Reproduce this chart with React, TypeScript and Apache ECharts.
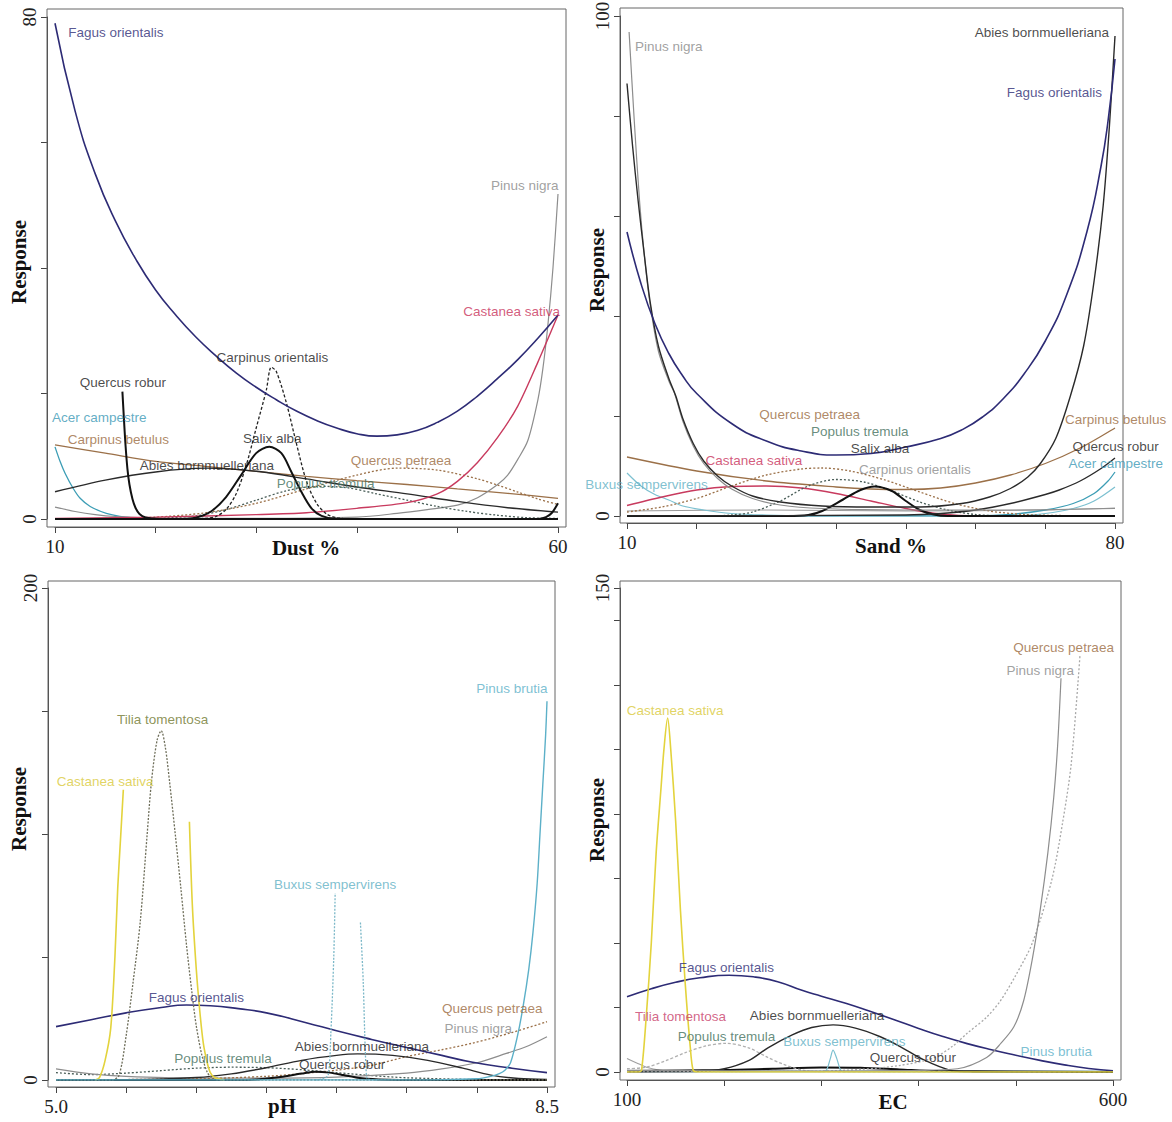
import React, { useEffect, useRef } from 'react';
import * as echarts from 'echarts';

type Pt = [number, number | null];

// ---------- Panel 1: Dust % ----------
const dustFagus: Pt[] = [[10,79],[12,65],[14,55],[16,47.5],[18,41.5],[20,36.5],[22,32.5],[24,29],[26,26],[28,23.3],[30,21],[32,19],[34,17.2],[36,15.7],[38,14.5],[40,13.6],[42,13.2],[44,13.4],[46,14.1],[48,15.4],[50,17.2],[52,19.6],[54,22.4],[56,25.4],[58,28.8],[60,32.5]];
const dustPinusNigra: Pt[] = [[10,1.9],[12,1.2],[14,0.7],[16,0.4],[20,0.15],[30,0.1],[40,0.3],[44,0.9],[47,1.5],[50,2.2],[52,3.4],[54,5.5],[55,7],[56,9.5],[57,12.5],[58,19],[58.5,24],[59,31],[59.5,40],[60,51.8]];
const dustCastanea: Pt[] = [[10,0.1],[20,0.3],[30,0.7],[35,1.0],[40,1.7],[45,2.6],[48,4],[50,6],[52,9],[54,13],[56,18],[58,25],[60,32.5]];
const dustCarpinusOrientalis: Pt[] = [[10,0],[20,0],[25,0.1],[26,0.4],[27,1.5],[28,4],[29,8.5],[30,14.5],[31,20.5],[31.5,24.2],[32,23.5],[33,18.5],[34,12],[35,6],[36,2.5],[37,0.8],[38,0.2],[40,0],[60,0]];
const dustSalix: Pt[] = [[10,0],[22,0],[24,0.2],[25.5,1.2],[27,3.5],[28.5,7],[30,10.5],[31.3,11.5],[32.5,10.5],[33.5,7.5],[34.5,4.3],[35.5,1.7],[36.5,0.5],[38,0],[60,0]];
const dustQuercusRobur: Pt[] = [[16.7,20.3],[16.85,16],[17.0,12],[17.2,8],[17.4,5.5],[17.7,3.2],[18.0,1.8],[18.4,0.8],[19,0.25],[20,0.05],[21,0],[58,0],[58.8,0.3],[59.4,1],[60,2.5]];
const dustAcer: Pt[] = [[10,11.5],[10.5,9.2],[11,7.3],[11.8,4.9],[12.5,3.3],[13.5,2],[15.1,0.9],[17,0.3],[19,0.1],[22,0],[60,0]];
const dustCarpinusBetulus: Pt[] = [[10,11.8],[15,10.5],[20,9.2],[25,8.4],[30,7.6],[35,6.8],[40,6.1],[45,5.5],[50,4.8],[55,4.1],[60,3.3]];
const dustAbies: Pt[] = [[10,4.35],[15,6.2],[20,7.5],[25,8.1],[30,7.6],[35,6.4],[40,5.1],[45,4.0],[50,2.8],[55,1.8],[60,1.1]];
const dustQuercusPetraea: Pt[] = [[15,0.1],[20,0.3],[25,1.0],[30,2.5],[35,4.8],[40,7.0],[44,8.1],[48,7.8],[52,6.4],[54,5.4],[56,4.3],[58,3.2],[60,2.3]];
const dustPopulus: Pt[] = [[20,0.1],[24,0.5],[27,1.5],[30,3],[33,4.5],[36,5.2],[39,5],[42,4],[45,3],[48,2],[51,1.2],[54,0.6],[57,0.2],[60,0.1]];

const dustLabels: [string, number, number][] = [
  ['Fagus orientalis', 16.06, 77.6], ['Pinus nigra', 56.7, 53.1], ['Castanea sativa', 55.4, 33.0],
  ['Carpinus orientalis', 31.6, 25.8], ['Quercus robur', 16.75, 21.8], ['Acer campestre', 14.4, 16.1],
  ['Carpinus betulus', 16.3, 12.7], ['Salix alba', 31.6, 12.9], ['Abies bornmuelleriana', 25.1, 8.6],
  ['Quercus petraea', 44.4, 9.4], ['Populus tremula', 36.9, 5.6],
];

// ---------- Panel 2: Sand % ----------
const sandPinusNigra: Pt[] = [[10.3,96.8],[11,80],[11.8,63],[12.5,52],[13.3,42.5],[14.5,33],[16,27],[16.8,24.6],[18,19],[19.5,14],[21,10.5],[23,7.5],[25,5.4],[28,3.5],[32,2.2],[38,1.5],[50,1.2],[65,1.2],[80,1.5]];
const sandAbies: Pt[] = [[10,86.5],[10.8,74],[11.6,63],[12.5,52],[13.3,43],[14.5,34],[16,27.5],[17,24],[18,19.5],[19.5,14.5],[21,11],[23,8],[25,6],[28,4],[32,2.8],[38,2],[45,1.8],[52,1.8],[58,2.5],[62,3.8],[65,5.5],[67.5,7.8],[69.3,10.5],[71.5,15.5],[73.6,24],[75.5,34],[77,47],[78.3,62],[79.2,78],[80,96]];
const sandFagus: Pt[] = [[10,56.8],[12,46.5],[14,38.5],[16,32.5],[18,28],[20,24.5],[25,18.5],[30,15],[35,13],[40,12.2],[45,12.5],[50,13.8],[55,15.5],[58,17.2],[61,19.8],[64,23.5],[67,28.5],[70,35],[73,44],[76,57],[78,70],[79,79],[80,91.4]];
const sandQuercusPetraea: Pt[] = [[10,0.8],[15,1.8],[20,3.5],[25,6],[30,8.2],[35,9.4],[38,9.6],[42,9],[47,7.2],[52,4.8],[57,2.5],[62,1],[67,0.3],[72,0.1],[80,0]];
const sandPopulus: Pt[] = [[10,0],[22,0],[25,0.2],[28,0.8],[32,3],[36,6],[40,7.3],[44,6.8],[48,5],[52,2.8],[56,1.2],[60,0.3],[65,0],[80,0]];
const sandSalix: Pt[] = [[10,0],[33,0],[36,0.2],[38,1],[41,3.3],[43.5,5.2],[45.5,5.9],[48,5],[50,3],[52,1.2],[54,0.3],[56,0],[80,0]];
const sandCastanea: Pt[] = [[10,2.1],[15,3.8],[20,5.2],[25,5.9],[30,6],[35,5.6],[40,4.5],[45,3],[50,1.5],[55,0.4],[60,0],[80,0]];
const sandCarpinusBetulus: Pt[] = [[10,11.8],[20,9],[30,7],[40,5.8],[45,5.4],[50,5.3],[55,5.6],[60,6.6],[65,8.2],[70,10.5],[75,13.6],[80,17.6]];
const sandCarpinusOrientalis: Pt[] = [[10,1.0],[30,1.2],[50,1.0],[70,1.2],[80,1.6]];
const sandBuxus: Pt[] = [[10,8.6],[12,6],[14,4.3],[16,3.2],[18,2],[21,1.2],[25,0.5],[30,0.2],[40,0],[65,0],[70,0.5],[74,1.5],[77,3],[80,5.8]];
const sandAcer: Pt[] = [[10,0],[60,0],[65,0.3],[70,1.2],[74,2.5],[77,4.5],[79,7],[80,8.8]];
const sandQuercusRobur: Pt[] = [[10,0],[50,0.2],[55,0.5],[60,1.2],[65,2.5],[70,4.3],[72,5.2],[75,7],[78,9.5],[80,11.6]];

const sandLabels: [string, number, number][] = [
  ['Pinus nigra', 16.0, 93.9], ['Abies bornmuelleriana', 69.5, 96.8], ['Fagus orientalis', 71.3, 84.8],
  ['Quercus petraea', 36.2, 20.4], ['Populus tremula', 43.4, 17.0], ['Salix alba', 46.3, 13.5],
  ['Castanea sativa', 28.2, 11.2], ['Carpinus orientalis', 51.3, 9.4], ['Buxus sempervirens', 12.8, 6.4],
  ['Carpinus betulus', 80.1, 19.3], ['Quercus robur', 80.1, 13.9], ['Acer campestre', 80.1, 10.6],
];

// ---------- Panel 3: pH ----------
const phPinusBrutia: Pt[] = [[5,0],[7.5,0],[8.0,0.5],[8.1,1.5],[8.16,2.6],[8.2,4],[8.24,7],[8.29,18],[8.33,30],[8.37,45],[8.4,60],[8.43,80],[8.45,100],[8.47,120],[8.49,140],[8.5,154]];
const phTilia: Pt[] = [[5,0],[5.4,0],[5.45,2],[5.5,18],[5.55,40],[5.6,64],[5.65,100],[5.68,121],[5.72,138],[5.75,142],[5.78,135],[5.81,121],[5.85,100],[5.89,78],[5.93,55],[5.97,35],[6.0,22],[6.04,10],[6.08,3],[6.12,0.5],[6.2,0],[8.5,0]];
const phCastanea: Pt[] = [[5.28,0],[5.31,1],[5.35,8],[5.39,21],[5.42,50],[5.44,78],[5.46,98],[5.48,118],[5.7,null],[5.951,105],[5.972,71],[6.0,45],[6.025,28],[6.05,15],[6.078,7],[6.1,3],[6.13,1],[6.2,0]];
const phBuxus: Pt[] = [[6.85,0],[6.9,0.5],[6.94,2],[6.96,20],[6.98,50],[6.99,76],[7.08,null],[7.17,64],[7.19,40],[7.2,20],[7.21,5],[7.22,0.5],[7.3,0]];
const phFagus: Pt[] = [[5.0,21.7],[5.25,24.5],[5.5,27.3],[5.75,29.5],[5.93,30.5],[6.1,30.2],[6.3,29],[6.5,27.3],[6.79,23.2],[7.0,20],[7.25,16.5],[7.5,13.2],[7.75,10],[7.97,7.2],[8.25,4.8],[8.5,3]];
const phQuercusPetraea: Pt[] = [[5.0,0],[6.0,0.5],[6.5,1.5],[6.79,2.8],[7.0,4],[7.26,6.1],[7.5,9.5],[7.75,12.3],[7.97,15],[8.25,19.3],[8.5,23.7]];
const phPinusNigra: Pt[] = [[5.0,4.5],[5.25,2.5],[5.5,1.5],[6.0,0.8],[6.5,0.8],[7.0,1.2],[7.5,2.8],[7.75,4.5],[8.0,7],[8.21,10.8],[8.35,13.5],[8.5,17.6]];
const phAbies: Pt[] = [[5.0,0],[5.5,0.1],[6.0,1],[6.25,2.5],[6.5,5],[6.75,8],[7.0,10],[7.15,10.6],[7.4,10],[7.65,8],[7.9,4.8],[8.1,2],[8.3,0.6],[8.5,0.2]];
const phQuercusRobur: Pt[] = [[5,0],[6.3,0],[6.45,0.3],[6.6,1.2],[6.75,2.6],[6.85,3.4],[6.95,3],[7.05,2],[7.15,0.9],[7.3,0.2],[7.45,0],[8.5,0]];
const phPopulus: Pt[] = [[5.0,3],[5.25,2.2],[5.5,2.8],[5.75,3.8],[6.0,4.8],[6.25,5.2],[6.5,5],[6.75,4.2],[7.0,3],[7.25,1.8],[7.5,0.9],[8.0,0.2],[8.5,0]];

const phLabels: [string, number, number][] = [
  ['Pinus brutia', 8.25, 159.3], ['Tilia tomentosa', 5.76, 146.5], ['Castanea sativa', 5.35, 121.4],
  ['Buxus sempervirens', 6.99, 79.5], ['Fagus orientalis', 6.0, 33.7], ['Quercus petraea', 8.11, 29.1],
  ['Pinus nigra', 8.01, 20.8], ['Abies bornmuelleriana', 7.18, 13.8], ['Populus tremula', 6.19, 8.7],
  ['Quercus robur', 7.04, 6.3],
];

// ---------- Panel 4: EC ----------
const ecCastanea: Pt[] = [[100,0],[112,0],[115,0.6],[120,18],[125,40],[130,68],[135,88],[138,100],[141.8,109.7],[145,100],[150,78],[155,50],[160,27],[165,8],[168,0.6],[172,0],[600,0]];
const ecPinusNigra: Pt[] = [[100,0.5],[300,0.3],[400,0.5],[440,1],[470,4.5],[485,9],[498,14],[508,22],[517,35],[525,50],[533,68],[539,85],[543,101],[546.5,122]];
const ecQuercusPetraea: Pt[] = [[100,0],[250,0.2],[300,0.3],[340,0.8],[380,2],[415,4.3],[435,8],[450,12],[470,17],[484,22],[500,30],[517,40],[537,59.5],[548,77],[557,95.5],[566,129]];
const ecFagus: Pt[] = [[100,23.3],[125,25.8],[150,27.8],[175,29.2],[205,30],[230,29.5],[255,28],[280,25.3],[300,23.5],[325,21.3],[350,18.8],[375,16.2],[400,13.5],[425,11],[450,8.8],[475,6.9],[500,5.2],[525,3.6],[550,2.2],[575,1.1],[600,0.4]];
const ecAbies: Pt[] = [[100,0],[175,0.2],[200,1],[225,3.5],[245,7.5],[270,11.5],[290,13.8],[312,14.6],[335,13.6],[360,11],[381,7.9],[405,3.8],[432,0.6],[455,0.1],[600,0]];
const ecPopulus: Pt[] = [[100,1],[120,1.5],[140,3.5],[160,6],[180,8],[202,8.9],[225,7.5],[245,4.5],[260,2.5],[280,0.6],[300,0.1],[600,0]];
const ecTilia: Pt[] = [[100,4.2],[110,2.8],[120,1.5],[135,0.5],[150,0.1],[200,0],[600,0]];
const ecBuxus: Pt[] = [[100,0],[300,0],[305,0.5],[309,4],[312,6.8],[316,4],[320,0.5],[325,0],[600,0]];
const ecQuercusRobur: Pt[] = [[100,0.3],[200,0.6],[250,1],[300,1.4],[340,1.3],[380,0.8],[420,0.3],[600,0]];
const ecPinusBrutia: Pt[] = [[100,0.2],[300,0.2],[600,0.2]];

const ecLabels: [string, number, number][] = [
  ['Quercus petraea', 549.2, 131.5], ['Pinus nigra', 525.1, 124.4], ['Castanea sativa', 149.5, 111.9],
  ['Fagus orientalis', 202.2, 32.5], ['Tilia tomentosa', 155.1, 17.2], ['Abies bornmuelleriana', 295.5, 17.5],
  ['Populus tremula', 202.4, 11.0], ['Buxus sempervirens', 323.6, 9.4], ['Quercus robur', 394, 4.4],
  ['Pinus brutia', 541.6, 6.3],
];

// ---------- styles ----------
const LINE: Record<string, { color: string; width: number; dash?: number[]; smooth?: number }> = {
  fagus: { color: '#2d2b75', width: 1.6, smooth: 0.5 },
  pinusNigra: { color: '#8d8d8d', width: 1.2 },
  castaneaRed: { color: '#c83a5e', width: 1.4 },
  carpOri: { color: '#222222', width: 1.3, dash: [3, 2] },
  carpOriGrey: { color: '#9a9a9a', width: 1.1 },
  salix: { color: '#111111', width: 2 },
  qRobur: { color: '#111111', width: 2 },
  acer: { color: '#3c9db5', width: 1.3 },
  carpBet: { color: '#9b7048', width: 1.3 },
  abies: { color: '#2a2a2a', width: 1.4 },
  qPetraea: { color: '#9b7048', width: 1.3, dash: [2, 2] },
  populus: { color: '#4a5e58', width: 1.3, dash: [2, 2] },
  buxus: { color: '#7cc0d0', width: 1.2 },
  buxusDot: { color: '#7cb8c8', width: 1.3, dash: [2, 1.5] },
  tilia: { color: '#6e6e5a', width: 1.3, dash: [2, 1.5] },
  tiliaEc: { color: '#a0a0a0', width: 1.1 },
  brutia: { color: '#5cb0c8', width: 1.4 },
  castaneaYellow: { color: '#e3d33c', width: 1.6 },
  populusEc: { color: '#b0b0b0', width: 1.3, dash: [3, 2] },
  qPetraeaEc: { color: '#a8a8a8', width: 1.3, dash: [2, 2] },
};

const LABEL_COLOR: Record<string, string> = {
  'Fagus orientalis': '#2d2b75', 'Pinus nigra': '#888888', 'Castanea sativa': '#c8325a',
  'Carpinus orientalis': '#1a1a1a', 'Quercus robur': '#1a1a1a', 'Acer campestre': '#3a98b5',
  'Carpinus betulus': '#9a6a3e', 'Salix alba': '#1a1a1a', 'Abies bornmuelleriana': '#1a1a1a',
  'Quercus petraea': '#9a6a3e', 'Populus tremula': '#3f6f5c', 'Buxus sempervirens': '#5fb0c4',
  'Pinus brutia': '#5cb0c8', 'Tilia tomentosa': '#70782e',
};

type Curve = [Pt[], string];

const PANELS = [
  {
    xMin: 10, xMax: 60, xInt: 10, yMin: 0, yMax: 80, yInt: 20, xLab: [10, 60], yLab: [0, 80], yTicks: null as number[] | null,
    digits: 0, xTitle: 'Dust %', labels: dustLabels, overrides: {} as Record<string, string>,
    curves: [
      [dustCarpinusBetulus, 'carpBet'], [dustAcer, 'acer'], [dustPinusNigra, 'pinusNigra'], [dustPopulus, 'populus'],
      [dustQuercusPetraea, 'qPetraea'], [dustAbies, 'abies'], [dustCastanea, 'castaneaRed'], [dustCarpinusOrientalis, 'carpOri'],
      [dustSalix, 'salix'], [dustQuercusRobur, 'qRobur'], [dustFagus, 'fagus'],
    ] as Curve[],
  },
  {
    xMin: 10, xMax: 80, xInt: 10, yMin: 0, yMax: 100, yInt: 20, xLab: [10, 80], yLab: [0, 100], yTicks: null,
    digits: 0, xTitle: 'Sand %', labels: sandLabels, overrides: { 'Carpinus orientalis': '#8a8a8a' },
    curves: [
      [sandCarpinusOrientalis, 'carpOriGrey'], [sandBuxus, 'buxus'], [sandAcer, 'acer'], [sandCarpinusBetulus, 'carpBet'],
      [sandCastanea, 'castaneaRed'], [sandQuercusPetraea, 'qPetraea'], [sandPopulus, 'populus'], [sandSalix, 'salix'],
      [sandQuercusRobur, 'abies'], [sandPinusNigra, 'pinusNigra'], [sandAbies, 'abies'], [sandFagus, 'fagus'],
    ] as Curve[],
  },
  {
    xMin: 5, xMax: 8.5, xInt: 0.5, yMin: 0, yMax: 200, yInt: 50, xLab: [5, 8.5], yLab: [0, 200], yTicks: null,
    digits: 1, xTitle: 'pH', labels: phLabels, overrides: { 'Castanea sativa': '#d9c93a' },
    curves: [
      [phPopulus, 'populus'], [phPinusNigra, 'pinusNigra'], [phQuercusPetraea, 'qPetraea'], [phAbies, 'abies'],
      [phQuercusRobur, 'qRobur'], [phFagus, 'fagus'], [phBuxus, 'buxusDot'], [phTilia, 'tilia'],
      [phCastanea, 'castaneaYellow'], [phPinusBrutia, 'brutia'],
    ] as Curve[],
  },
  {
    xMin: 100, xMax: 600, xInt: 100, yMin: 0, yMax: 150, yInt: undefined as number | undefined, xLab: [100, 600], yLab: [0, 150],
    yTicks: [0, 20, 40, 60, 80, 100, 120, 140, 150],
    digits: 0, xTitle: 'EC', labels: ecLabels, overrides: { 'Castanea sativa': '#d9c93a', 'Tilia tomentosa': '#c8406a' },
    curves: [
      [ecPinusBrutia, 'brutia'], [ecTilia, 'tiliaEc'], [ecQuercusRobur, 'qRobur'], [ecBuxus, 'buxus'], [ecPopulus, 'populusEc'],
      [ecAbies, 'abies'], [ecFagus, 'fagus'], [ecQuercusPetraea, 'qPetraeaEc'], [ecPinusNigra, 'pinusNigra'],
      [ecCastanea, 'castaneaYellow'],
    ] as Curve[],
  },
];

// layout (pixels)
const LAYOUT = [
  { left: 55, top: 17, width: 503, height: 502, frame: [47, 9, 519, 518], yT: [18.5, 262], xT: [306, 548] },
  { left: 627, top: 16, width: 488, height: 500, frame: [620, 8, 503, 515], yT: [597, 270], xT: [891, 546] },
  { left: 56, top: 588, width: 491, height: 492, frame: [48, 581, 507, 506], yT: [18.5, 809], xT: [282, 1106] },
  { left: 627, top: 588, width: 486, height: 484, frame: [620, 581, 501, 499], yT: [597, 820], xT: [893, 1102] },
];

const SERIF = '"Liberation Serif", "Times New Roman", serif';
const SANS = '"Liberation Sans", Arial, sans-serif';

export default function App() {
  const ref = useRef<HTMLDivElement>(null);
  useEffect(() => {
    if (!ref.current) return;
    const chart = echarts.init(ref.current, undefined, { renderer: 'svg' });
    const grid: any[] = [];
    const xAxis: any[] = [];
    const yAxis: any[] = [];
    const series: any[] = [];
    const graphic: any[] = [];

    PANELS.forEach((p, i) => {
      const L = LAYOUT[i];
      grid.push({ left: L.left, top: L.top, width: L.width, height: L.height, containLabel: false, outerBoundsMode: 'none' });
      const xOff = L.frame[1] + L.frame[3] - (L.top + L.height);
      const yOff = L.left - L.frame[0];
      xAxis.push({
        gridIndex: i, type: 'value', min: p.xMin, max: p.xMax, interval: p.xInt, offset: xOff,
        axisLine: { show: true, onZero: false, lineStyle: { color: '#444', width: 1 } },
        axisTick: { show: true, length: 6, lineStyle: { color: '#444' } },
        axisLabel: {
          customValues: p.xLab, color: '#222', fontFamily: SERIF, fontSize: 19, margin: 10,
          formatter: (v: number) => v.toFixed(p.digits),
        },
        splitLine: { show: false },
      });
      const yTick: any = { show: true, length: 6, lineStyle: { color: '#444' } };
      if (p.yTicks) yTick.customValues = p.yTicks;
      yAxis.push({
        gridIndex: i, type: 'value', min: p.yMin, max: p.yMax, interval: p.yInt, offset: yOff,
        axisLine: { show: true, onZero: false, lineStyle: { color: '#444', width: 1 } },
        axisTick: yTick,
        axisLabel: {
          customValues: p.yLab, color: '#222', fontFamily: SERIF, fontSize: 19, margin: 8, rotate: 90,
          formatter: (v: number) => String(v),
        },
        splitLine: { show: false },
      });
      p.curves.forEach(([data, key], k) => {
        const s = LINE[key];
        series.push({
          type: 'line', xAxisIndex: i, yAxisIndex: i, data, symbol: 'none', showSymbol: false,
          smooth: s.smooth ?? 0.3, connectNulls: false, silent: true, z: 2 + k * 0.01,
          lineStyle: { color: s.color, width: s.width, type: s.dash ? s.dash : 'solid' },
        });
      });
      series.push({
        type: 'scatter', xAxisIndex: i, yAxisIndex: i, symbolSize: 0, clip: false, silent: true, z: 10,
        data: p.labels.map(([t, x, y]) => ({
          value: [x, y], name: t,
          label: { color: (p.overrides as any)[t] || LABEL_COLOR[t] },
        })),
        label: { show: true, position: 'inside', formatter: '{b}', fontFamily: SANS, fontSize: 13.5 },
      });
      graphic.push({
        type: 'rect', shape: { x: L.frame[0], y: L.frame[1], width: L.frame[2], height: L.frame[3] },
        style: { fill: 'none', stroke: '#666', lineWidth: 1 }, silent: true, z: 1,
      });
      graphic.push({
        type: 'text', x: L.yT[0], y: L.yT[1], rotation: Math.PI / 2, silent: true,
        style: { text: 'Response', font: `bold 21px ${SERIF}`, fill: '#111', align: 'center', verticalAlign: 'middle', textAlign: 'center', textVerticalAlign: 'middle' },
      });
      graphic.push({
        type: 'text', x: L.xT[0], y: L.xT[1], silent: true,
        style: { text: p.xTitle, font: `bold 21px ${SERIF}`, fill: '#111', align: 'center', verticalAlign: 'middle', textAlign: 'center', textVerticalAlign: 'middle' },
      });
    });

    chart.setOption({
      animation: false,
      backgroundColor: '#ffffff',
      grid, xAxis, yAxis, series, graphic,
    });
    return () => chart.dispose();
  }, []);
  return <div ref={ref} style={{ position: 'absolute', left: 0, top: 0, width: 1172, height: 1122 }} />;
}
